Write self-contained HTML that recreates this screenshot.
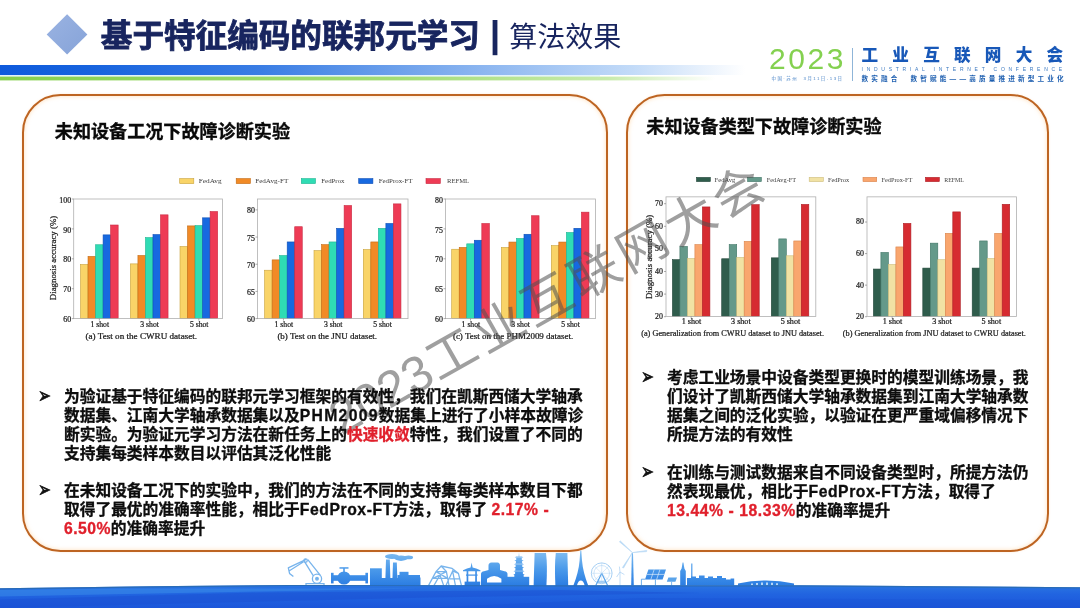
<!DOCTYPE html>
<html lang="zh-CN">
<head>
<meta charset="utf-8">
<title>基于特征编码的联邦元学习 | 算法效果</title>
<style>
html,body{margin:0;padding:0;}
body{width:1080px;height:608px;position:relative;overflow:hidden;background:#fff;font-family:"Liberation Sans","Noto Sans CJK SC",sans-serif;}
.abs{position:absolute;}
.title{left:100.8px;top:13px;font-size:31.6px;font-weight:700;color:#18255f;-webkit-text-stroke:.85px #18255f;white-space:nowrap;line-height:46px;}
.sep{left:489.8px;top:10.5px;font-size:37.6px;font-weight:700;color:#18255f;line-height:46px;}
.sub{left:509.2px;top:15px;font-weight:400;font-size:28px;color:#18255f;line-height:46px;white-space:nowrap;}
.panel{border:2.6px solid #bd6422;border-radius:38.5px;box-sizing:border-box;background:#fff;box-shadow:inset 0 0 4px rgba(255,196,130,.55),0 0 2px rgba(255,210,160,.5);}
.h2{font-size:18.1px;font-weight:700;color:#0a0a0a;-webkit-text-stroke:.35px #0a0a0a;white-space:nowrap;line-height:24px;}
.txt{font-size:15.73px;font-weight:700;color:#0d0d0d;-webkit-text-stroke:.3px;line-height:19px;white-space:nowrap;}
.txt .r{color:#e0202c;}
.bul{font-size:15px;font-weight:400;color:#111;line-height:19px;transform:scaleY(1.45);transform-origin:50% 50%;-webkit-text-stroke:.5px #111;margin:-1px 0 0 -0.8px;}
svg text{font-family:"Liberation Serif","Noto Serif CJK SC",serif;fill:#1a1a1a;stroke:#1a1a1a;stroke-width:.22px;}
svg text.wmt{font-family:"Liberation Sans","Noto Sans CJK SC",sans-serif;font-weight:400;fill:rgba(80,80,80,.55);stroke:none;}
</style>
</head>
<body>
<svg class="abs" style="left:0;top:0" width="1080" height="100" viewBox="0 0 1080 100">
<defs>
<linearGradient id="gb" x1="0" x2="1" y1="0" y2="0"><stop offset="0" stop-color="#0e5adc"/><stop offset="0.12" stop-color="#1763de"/><stop offset="0.35" stop-color="#3a7de4"/><stop offset="0.6" stop-color="#7fadee"/><stop offset="0.85" stop-color="#c3dbf8"/><stop offset="1" stop-color="#ffffff"/></linearGradient>
<linearGradient id="gg" x1="0" x2="1" y1="0" y2="0"><stop offset="0" stop-color="#86d04e"/><stop offset="0.55" stop-color="#a2dc74"/><stop offset="0.85" stop-color="#c8ebac"/><stop offset="1" stop-color="#ffffff"/></linearGradient>
<linearGradient id="gd" x1="0" x2="1" y1="0" y2="1"><stop offset="0" stop-color="#9ab3e2"/><stop offset="1" stop-color="#86a3d8"/></linearGradient>
</defs>
<rect x="0" y="65" width="745" height="10" fill="url(#gb)"/>
<rect x="0" y="75" width="600" height="1.7" fill="#e2f3fb"/>
<rect x="0" y="76.6" width="715" height="3.8" fill="url(#gg)"/>
<polygon points="67.1,14.3 87.4,34.6 67.1,54.6 46.7,34.6" fill="url(#gd)"/>
</svg>
<div class="abs title">基于特征编码的联邦元学习</div>
<div class="abs sep">|</div>
<div class="abs sub">算法效果</div>
<div class="abs" style="left:769px;top:42.5px;font-size:30px;line-height:32px;color:#84d150;font-weight:400;letter-spacing:2.6px;white-space:nowrap;">2023</div>
<div class="abs" style="left:852px;top:48px;width:1px;height:33px;background:#8fb5d8;"></div>
<div class="abs" style="left:861.5px;top:45px;font-size:16.6px;line-height:22px;font-weight:900;color:#1858b8;letter-spacing:14.25px;white-space:nowrap;">工业互联网大会</div>
<div class="abs" style="left:861.5px;top:65.7px;font-size:5px;line-height:7px;color:#3a78c0;letter-spacing:3.74px;white-space:nowrap;">INDUSTRIAL INTERNET CONFERENCE</div>
<div class="abs" style="left:861.5px;top:73.5px;font-size:6.6px;line-height:9px;font-weight:700;color:#1e5fb0;letter-spacing:3.17px;white-space:nowrap;">数实融合&nbsp;&nbsp;数智赋能——高质量推进新型工业化</div>
<div class="abs" style="left:771.5px;top:75.7px;font-size:4.4px;line-height:6px;color:#4c86c8;letter-spacing:1.5px;white-space:nowrap;">中国·苏州&nbsp;&nbsp;3月11日-13日</div>
<div class="abs panel" style="left:22.4px;top:94.4px;width:585.4px;height:457.6px;"></div>
<div class="abs panel" style="left:626.4px;top:94.4px;width:422.6px;height:457.6px;"></div>
<div class="abs h2" style="left:54.8px;top:119.7px;">未知设备工况下故障诊断实验</div>
<div class="abs h2" style="left:646.3px;top:114.5px;">未知设备类型下故障诊断实验</div>
<svg class="abs" style="left:0;top:0" width="1080" height="608" viewBox="0 0 1080 608">
<rect x="179.7" y="178.6" width="14.1" height="5" fill="#f9d468" stroke="#c9a23c" stroke-width="0.6"/>
<text x="198.7" y="183.4" textLength="23.0" lengthAdjust="spacingAndGlyphs" font-size="7" style="fill:#3a3a3a;stroke:none">FedAvg</text>
<rect x="236.2" y="178.6" width="14.2" height="5" fill="#f18a26" stroke="#c26a14" stroke-width="0.6"/>
<text x="255.2" y="183.4" textLength="33.1" lengthAdjust="spacingAndGlyphs" font-size="7" style="fill:#3a3a3a;stroke:none">FedAvg-FT</text>
<rect x="301.3" y="178.6" width="14.2" height="5" fill="#2fdcb4" stroke="#1fb592" stroke-width="0.6"/>
<text x="321.3" y="183.4" textLength="23.2" lengthAdjust="spacingAndGlyphs" font-size="7" style="fill:#3a3a3a;stroke:none">FedProx</text>
<rect x="358.7" y="178.6" width="14.2" height="5" fill="#1769e0" stroke="#0f4fb5" stroke-width="0.6"/>
<text x="378.7" y="183.4" textLength="33.8" lengthAdjust="spacingAndGlyphs" font-size="7" style="fill:#3a3a3a;stroke:none">FedProx-FT</text>
<rect x="426" y="178.6" width="14.3" height="5" fill="#ee3b55" stroke="#c82840" stroke-width="0.6"/>
<text x="447" y="183.4" textLength="22.1" lengthAdjust="spacingAndGlyphs" font-size="7" style="fill:#3a3a3a;stroke:none">REFML</text>
<rect x="80.50" y="264.48" width="7.53" height="54.12" fill="#f9d468" stroke="#c9a23c" stroke-width="0.6"/>
<rect x="88.03" y="256.41" width="7.53" height="62.19" fill="#f18a26" stroke="#c26a14" stroke-width="0.6"/>
<rect x="95.56" y="244.75" width="7.53" height="73.85" fill="#2fdcb4" stroke="#1fb592" stroke-width="0.6"/>
<rect x="103.09" y="234.88" width="7.53" height="83.72" fill="#1769e0" stroke="#0f4fb5" stroke-width="0.6"/>
<rect x="110.62" y="225.01" width="7.53" height="93.59" fill="#ee3b55" stroke="#c82840" stroke-width="0.6"/>
<rect x="130.40" y="263.88" width="7.53" height="54.72" fill="#f9d468" stroke="#c9a23c" stroke-width="0.6"/>
<rect x="137.93" y="255.51" width="7.53" height="63.09" fill="#f18a26" stroke="#c26a14" stroke-width="0.6"/>
<rect x="145.46" y="237.57" width="7.53" height="81.03" fill="#2fdcb4" stroke="#1fb592" stroke-width="0.6"/>
<rect x="152.99" y="234.58" width="7.53" height="84.02" fill="#1769e0" stroke="#0f4fb5" stroke-width="0.6"/>
<rect x="160.52" y="214.85" width="7.53" height="103.75" fill="#ee3b55" stroke="#c82840" stroke-width="0.6"/>
<rect x="180.00" y="246.54" width="7.53" height="72.06" fill="#f9d468" stroke="#c9a23c" stroke-width="0.6"/>
<rect x="187.53" y="225.91" width="7.53" height="92.69" fill="#f18a26" stroke="#c26a14" stroke-width="0.6"/>
<rect x="195.06" y="225.61" width="7.53" height="92.99" fill="#2fdcb4" stroke="#1fb592" stroke-width="0.6"/>
<rect x="202.59" y="217.84" width="7.53" height="100.76" fill="#1769e0" stroke="#0f4fb5" stroke-width="0.6"/>
<rect x="210.12" y="211.56" width="7.53" height="107.04" fill="#ee3b55" stroke="#c82840" stroke-width="0.6"/>
<rect x="73.7" y="199" width="148.90" height="119.60" fill="none" stroke="#b0b0b0" stroke-width="0.8"/>
<line x1="71.7" x2="73.7" y1="318.60" y2="318.60" stroke="#777" stroke-width="0.6"/>
<text x="71.10000000000001" y="322.20" text-anchor="end" font-size="7.9">60</text>
<line x1="71.7" x2="73.7" y1="288.70" y2="288.70" stroke="#777" stroke-width="0.6"/>
<text x="71.10000000000001" y="292.30" text-anchor="end" font-size="7.9">70</text>
<line x1="71.7" x2="73.7" y1="258.80" y2="258.80" stroke="#777" stroke-width="0.6"/>
<text x="71.10000000000001" y="262.40" text-anchor="end" font-size="7.9">80</text>
<line x1="71.7" x2="73.7" y1="228.90" y2="228.90" stroke="#777" stroke-width="0.6"/>
<text x="71.10000000000001" y="232.50" text-anchor="end" font-size="7.9">90</text>
<line x1="71.7" x2="73.7" y1="199.00" y2="199.00" stroke="#777" stroke-width="0.6"/>
<text x="71.10000000000001" y="202.60" text-anchor="end" font-size="7.9">100</text>
<line x1="99.33" x2="99.33" y1="318.6" y2="320.6" stroke="#777" stroke-width="0.6"/>
<text x="90.43" y="327.20" textLength="18.6" lengthAdjust="spacingAndGlyphs" font-size="7.9">1 shot</text>
<line x1="149.22" x2="149.22" y1="318.6" y2="320.6" stroke="#777" stroke-width="0.6"/>
<text x="140.32" y="327.20" textLength="18.6" lengthAdjust="spacingAndGlyphs" font-size="7.9">3 shot</text>
<line x1="198.82" x2="198.82" y1="318.6" y2="320.6" stroke="#777" stroke-width="0.6"/>
<text x="189.92" y="327.20" textLength="18.6" lengthAdjust="spacingAndGlyphs" font-size="7.9">5 shot</text>
<text transform="translate(56.3,300.2) rotate(-90)" textLength="84.4" lengthAdjust="spacingAndGlyphs" font-size="7.9">Diagnosis accuracy (%)</text>
<text x="85.5" y="338.5" textLength="111.6" lengthAdjust="spacingAndGlyphs" font-size="7.7" fill="#2a2a2a">(a) Test on the CWRU dataset.</text>
<rect x="264.60" y="270.22" width="7.53" height="48.38" fill="#f9d468" stroke="#c9a23c" stroke-width="0.6"/>
<rect x="272.13" y="259.89" width="7.53" height="58.71" fill="#f18a26" stroke="#c26a14" stroke-width="0.6"/>
<rect x="279.66" y="255.54" width="7.53" height="63.06" fill="#2fdcb4" stroke="#1fb592" stroke-width="0.6"/>
<rect x="287.19" y="241.95" width="7.53" height="76.65" fill="#1769e0" stroke="#0f4fb5" stroke-width="0.6"/>
<rect x="294.72" y="226.73" width="7.53" height="91.87" fill="#ee3b55" stroke="#c82840" stroke-width="0.6"/>
<rect x="314.00" y="250.65" width="7.53" height="67.95" fill="#f9d468" stroke="#c9a23c" stroke-width="0.6"/>
<rect x="321.53" y="244.67" width="7.53" height="73.93" fill="#f18a26" stroke="#c26a14" stroke-width="0.6"/>
<rect x="329.06" y="241.95" width="7.53" height="76.65" fill="#2fdcb4" stroke="#1fb592" stroke-width="0.6"/>
<rect x="336.59" y="228.36" width="7.53" height="90.24" fill="#1769e0" stroke="#0f4fb5" stroke-width="0.6"/>
<rect x="344.12" y="205.52" width="7.53" height="113.08" fill="#ee3b55" stroke="#c82840" stroke-width="0.6"/>
<rect x="363.30" y="249.56" width="7.53" height="69.04" fill="#f9d468" stroke="#c9a23c" stroke-width="0.6"/>
<rect x="370.83" y="241.95" width="7.53" height="76.65" fill="#f18a26" stroke="#c26a14" stroke-width="0.6"/>
<rect x="378.36" y="228.36" width="7.53" height="90.24" fill="#2fdcb4" stroke="#1fb592" stroke-width="0.6"/>
<rect x="385.89" y="223.46" width="7.53" height="95.14" fill="#1769e0" stroke="#0f4fb5" stroke-width="0.6"/>
<rect x="393.42" y="203.89" width="7.53" height="114.71" fill="#ee3b55" stroke="#c82840" stroke-width="0.6"/>
<rect x="257.5" y="199" width="150.50" height="119.60" fill="none" stroke="#b0b0b0" stroke-width="0.8"/>
<line x1="255.5" x2="257.5" y1="318.60" y2="318.60" stroke="#777" stroke-width="0.6"/>
<text x="254.9" y="322.20" text-anchor="end" font-size="7.9">60</text>
<line x1="255.5" x2="257.5" y1="291.42" y2="291.42" stroke="#777" stroke-width="0.6"/>
<text x="254.9" y="295.02" text-anchor="end" font-size="7.9">65</text>
<line x1="255.5" x2="257.5" y1="264.24" y2="264.24" stroke="#777" stroke-width="0.6"/>
<text x="254.9" y="267.84" text-anchor="end" font-size="7.9">70</text>
<line x1="255.5" x2="257.5" y1="237.05" y2="237.05" stroke="#777" stroke-width="0.6"/>
<text x="254.9" y="240.65" text-anchor="end" font-size="7.9">75</text>
<line x1="255.5" x2="257.5" y1="209.87" y2="209.87" stroke="#777" stroke-width="0.6"/>
<text x="254.9" y="213.47" text-anchor="end" font-size="7.9">80</text>
<line x1="283.43" x2="283.43" y1="318.6" y2="320.6" stroke="#777" stroke-width="0.6"/>
<text x="274.52" y="327.20" textLength="18.6" lengthAdjust="spacingAndGlyphs" font-size="7.9">1 shot</text>
<line x1="332.82" x2="332.82" y1="318.6" y2="320.6" stroke="#777" stroke-width="0.6"/>
<text x="323.92" y="327.20" textLength="18.6" lengthAdjust="spacingAndGlyphs" font-size="7.9">3 shot</text>
<line x1="382.12" x2="382.12" y1="318.6" y2="320.6" stroke="#777" stroke-width="0.6"/>
<text x="373.22" y="327.20" textLength="18.6" lengthAdjust="spacingAndGlyphs" font-size="7.9">5 shot</text>
<text x="277.4" y="338.5" textLength="99.7" lengthAdjust="spacingAndGlyphs" font-size="7.7" fill="#2a2a2a">(b) Test on the JNU dataset.</text>
<rect x="451.70" y="249.23" width="7.53" height="69.37" fill="#f9d468" stroke="#c9a23c" stroke-width="0.6"/>
<rect x="459.23" y="247.44" width="7.53" height="71.16" fill="#f18a26" stroke="#c26a14" stroke-width="0.6"/>
<rect x="466.76" y="243.85" width="7.53" height="74.75" fill="#2fdcb4" stroke="#1fb592" stroke-width="0.6"/>
<rect x="474.29" y="240.26" width="7.53" height="78.34" fill="#1769e0" stroke="#0f4fb5" stroke-width="0.6"/>
<rect x="481.82" y="223.52" width="7.53" height="95.08" fill="#ee3b55" stroke="#c82840" stroke-width="0.6"/>
<rect x="501.40" y="247.44" width="7.53" height="71.16" fill="#f9d468" stroke="#c9a23c" stroke-width="0.6"/>
<rect x="508.93" y="242.06" width="7.53" height="76.54" fill="#f18a26" stroke="#c26a14" stroke-width="0.6"/>
<rect x="516.46" y="238.47" width="7.53" height="80.13" fill="#2fdcb4" stroke="#1fb592" stroke-width="0.6"/>
<rect x="523.99" y="234.28" width="7.53" height="84.32" fill="#1769e0" stroke="#0f4fb5" stroke-width="0.6"/>
<rect x="531.52" y="215.74" width="7.53" height="102.86" fill="#ee3b55" stroke="#c82840" stroke-width="0.6"/>
<rect x="551.30" y="245.64" width="7.53" height="72.96" fill="#f9d468" stroke="#c9a23c" stroke-width="0.6"/>
<rect x="558.83" y="242.06" width="7.53" height="76.54" fill="#f18a26" stroke="#c26a14" stroke-width="0.6"/>
<rect x="566.36" y="232.49" width="7.53" height="86.11" fill="#2fdcb4" stroke="#1fb592" stroke-width="0.6"/>
<rect x="573.89" y="228.30" width="7.53" height="90.30" fill="#1769e0" stroke="#0f4fb5" stroke-width="0.6"/>
<rect x="581.42" y="212.16" width="7.53" height="106.44" fill="#ee3b55" stroke="#c82840" stroke-width="0.6"/>
<rect x="445.5" y="199" width="150.00" height="119.60" fill="none" stroke="#b0b0b0" stroke-width="0.8"/>
<line x1="443.5" x2="445.5" y1="318.60" y2="318.60" stroke="#777" stroke-width="0.6"/>
<text x="442.9" y="322.20" text-anchor="end" font-size="7.9">60</text>
<line x1="443.5" x2="445.5" y1="288.70" y2="288.70" stroke="#777" stroke-width="0.6"/>
<text x="442.9" y="292.30" text-anchor="end" font-size="7.9">65</text>
<line x1="443.5" x2="445.5" y1="258.80" y2="258.80" stroke="#777" stroke-width="0.6"/>
<text x="442.9" y="262.40" text-anchor="end" font-size="7.9">70</text>
<line x1="443.5" x2="445.5" y1="228.90" y2="228.90" stroke="#777" stroke-width="0.6"/>
<text x="442.9" y="232.50" text-anchor="end" font-size="7.9">75</text>
<line x1="443.5" x2="445.5" y1="199.00" y2="199.00" stroke="#777" stroke-width="0.6"/>
<text x="442.9" y="202.60" text-anchor="end" font-size="7.9">80</text>
<line x1="470.52" x2="470.52" y1="318.6" y2="320.6" stroke="#777" stroke-width="0.6"/>
<text x="461.62" y="327.20" textLength="18.6" lengthAdjust="spacingAndGlyphs" font-size="7.9">1 shot</text>
<line x1="520.23" x2="520.23" y1="318.6" y2="320.6" stroke="#777" stroke-width="0.6"/>
<text x="511.32" y="327.20" textLength="18.6" lengthAdjust="spacingAndGlyphs" font-size="7.9">3 shot</text>
<line x1="570.12" x2="570.12" y1="318.6" y2="320.6" stroke="#777" stroke-width="0.6"/>
<text x="561.23" y="327.20" textLength="18.6" lengthAdjust="spacingAndGlyphs" font-size="7.9">5 shot</text>
<text x="452.9" y="338.5" textLength="120.4" lengthAdjust="spacingAndGlyphs" font-size="7.7" fill="#2a2a2a">(c) Test on the PHM2009 dataset.</text>
<rect x="696.5" y="177.4" width="13.8" height="4.2" fill="#2f5d4c" stroke="#23463a" stroke-width="0.6"/>
<text x="714.6" y="181.8" textLength="20.6" lengthAdjust="spacingAndGlyphs" font-size="6.4" style="fill:#3a3a3a;stroke:none">FedAvg</text>
<rect x="747.6" y="177.4" width="13.7" height="4.2" fill="#64998a" stroke="#3f7565" stroke-width="0.6"/>
<text x="766.8" y="181.8" textLength="29.3" lengthAdjust="spacingAndGlyphs" font-size="6.4" style="fill:#3a3a3a;stroke:none">FedAvg-FT</text>
<rect x="809.2" y="177.4" width="14.1" height="4.2" fill="#f1e2a4" stroke="#cdbd7c" stroke-width="0.6"/>
<text x="827.9" y="181.8" textLength="21.3" lengthAdjust="spacingAndGlyphs" font-size="6.4" style="fill:#3a3a3a;stroke:none">FedProx</text>
<rect x="863" y="177.4" width="13.7" height="4.2" fill="#f9a66e" stroke="#d9824a" stroke-width="0.6"/>
<text x="881.6" y="181.8" textLength="30.7" lengthAdjust="spacingAndGlyphs" font-size="6.4" style="fill:#3a3a3a;stroke:none">FedProx-FT</text>
<rect x="925.5" y="177.4" width="13.8" height="4.2" fill="#d62b31" stroke="#ac1d24" stroke-width="0.6"/>
<text x="944.2" y="181.8" textLength="19.8" lengthAdjust="spacingAndGlyphs" font-size="6.4" style="fill:#3a3a3a;stroke:none">REFML</text>
<rect x="672.40" y="259.67" width="7.50" height="56.83" fill="#2f5d4c" stroke="#23463a" stroke-width="0.6"/>
<rect x="679.90" y="246.43" width="7.50" height="70.07" fill="#64998a" stroke="#3f7565" stroke-width="0.6"/>
<rect x="687.40" y="258.53" width="7.50" height="57.97" fill="#f1e2a4" stroke="#cdbd7c" stroke-width="0.6"/>
<rect x="694.90" y="244.61" width="7.50" height="71.89" fill="#f9a66e" stroke="#d9824a" stroke-width="0.6"/>
<rect x="702.40" y="206.94" width="7.50" height="109.56" fill="#d62b31" stroke="#ac1d24" stroke-width="0.6"/>
<rect x="721.70" y="258.76" width="7.50" height="57.74" fill="#2f5d4c" stroke="#23463a" stroke-width="0.6"/>
<rect x="729.20" y="244.61" width="7.50" height="71.89" fill="#64998a" stroke="#3f7565" stroke-width="0.6"/>
<rect x="736.70" y="257.39" width="7.50" height="59.11" fill="#f1e2a4" stroke="#cdbd7c" stroke-width="0.6"/>
<rect x="744.20" y="241.41" width="7.50" height="75.09" fill="#f9a66e" stroke="#d9824a" stroke-width="0.6"/>
<rect x="751.70" y="204.66" width="7.50" height="111.84" fill="#d62b31" stroke="#ac1d24" stroke-width="0.6"/>
<rect x="771.30" y="257.85" width="7.50" height="58.65" fill="#2f5d4c" stroke="#23463a" stroke-width="0.6"/>
<rect x="778.80" y="238.90" width="7.50" height="77.60" fill="#64998a" stroke="#3f7565" stroke-width="0.6"/>
<rect x="786.30" y="255.79" width="7.50" height="60.71" fill="#f1e2a4" stroke="#cdbd7c" stroke-width="0.6"/>
<rect x="793.80" y="240.96" width="7.50" height="75.54" fill="#f9a66e" stroke="#d9824a" stroke-width="0.6"/>
<rect x="801.30" y="204.43" width="7.50" height="112.07" fill="#d62b31" stroke="#ac1d24" stroke-width="0.6"/>
<rect x="666" y="196.85" width="149.80" height="119.65" fill="none" stroke="#b0b0b0" stroke-width="0.8"/>
<line x1="664" x2="666" y1="316.70" y2="316.70" stroke="#777" stroke-width="0.6"/>
<text x="662.9" y="319.10" text-anchor="end" font-size="7.9">20</text>
<line x1="664" x2="666" y1="294.10" y2="294.10" stroke="#777" stroke-width="0.6"/>
<text x="662.9" y="296.50" text-anchor="end" font-size="7.9">30</text>
<line x1="664" x2="666" y1="271.50" y2="271.50" stroke="#777" stroke-width="0.6"/>
<text x="662.9" y="273.90" text-anchor="end" font-size="7.9">40</text>
<line x1="664" x2="666" y1="248.90" y2="248.90" stroke="#777" stroke-width="0.6"/>
<text x="662.9" y="251.30" text-anchor="end" font-size="7.9">50</text>
<line x1="664" x2="666" y1="226.30" y2="226.30" stroke="#777" stroke-width="0.6"/>
<text x="662.9" y="228.70" text-anchor="end" font-size="7.9">60</text>
<line x1="664" x2="666" y1="203.70" y2="203.70" stroke="#777" stroke-width="0.6"/>
<text x="662.9" y="206.10" text-anchor="end" font-size="7.9">70</text>
<line x1="691.15" x2="691.15" y1="316.5" y2="318.5" stroke="#777" stroke-width="0.6"/>
<text x="681.75" y="324.10" textLength="19.6" lengthAdjust="spacingAndGlyphs" font-size="7.9">1 shot</text>
<line x1="740.45" x2="740.45" y1="316.5" y2="318.5" stroke="#777" stroke-width="0.6"/>
<text x="731.05" y="324.10" textLength="19.6" lengthAdjust="spacingAndGlyphs" font-size="7.9">3 shot</text>
<line x1="790.05" x2="790.05" y1="316.5" y2="318.5" stroke="#777" stroke-width="0.6"/>
<text x="780.65" y="324.10" textLength="19.6" lengthAdjust="spacingAndGlyphs" font-size="7.9">5 shot</text>
<text transform="translate(652.2,299.1) rotate(-90)" textLength="84.4" lengthAdjust="spacingAndGlyphs" font-size="7.9">Diagnosis accuracy (%)</text>
<text x="641.2" y="335.8" textLength="182.8" lengthAdjust="spacingAndGlyphs" font-size="7.7" fill="#2a2a2a">(a) Generalization from CWRU dataset to JNU dataset.</text>
<rect x="873.40" y="269.04" width="7.50" height="47.46" fill="#2f5d4c" stroke="#23463a" stroke-width="0.6"/>
<rect x="880.90" y="252.46" width="7.50" height="64.04" fill="#64998a" stroke="#3f7565" stroke-width="0.6"/>
<rect x="888.40" y="264.46" width="7.50" height="52.04" fill="#f1e2a4" stroke="#cdbd7c" stroke-width="0.6"/>
<rect x="895.90" y="246.94" width="7.50" height="69.56" fill="#f9a66e" stroke="#d9824a" stroke-width="0.6"/>
<rect x="903.40" y="223.42" width="7.50" height="93.08" fill="#d62b31" stroke="#ac1d24" stroke-width="0.6"/>
<rect x="922.80" y="268.09" width="7.50" height="48.41" fill="#2f5d4c" stroke="#23463a" stroke-width="0.6"/>
<rect x="930.30" y="243.15" width="7.50" height="73.35" fill="#64998a" stroke="#3f7565" stroke-width="0.6"/>
<rect x="937.80" y="259.72" width="7.50" height="56.78" fill="#f1e2a4" stroke="#cdbd7c" stroke-width="0.6"/>
<rect x="945.30" y="233.36" width="7.50" height="83.14" fill="#f9a66e" stroke="#d9824a" stroke-width="0.6"/>
<rect x="952.80" y="211.90" width="7.50" height="104.60" fill="#d62b31" stroke="#ac1d24" stroke-width="0.6"/>
<rect x="972.20" y="268.09" width="7.50" height="48.41" fill="#2f5d4c" stroke="#23463a" stroke-width="0.6"/>
<rect x="979.70" y="240.94" width="7.50" height="75.56" fill="#64998a" stroke="#3f7565" stroke-width="0.6"/>
<rect x="987.20" y="258.46" width="7.50" height="58.04" fill="#f1e2a4" stroke="#cdbd7c" stroke-width="0.6"/>
<rect x="994.70" y="233.36" width="7.50" height="83.14" fill="#f9a66e" stroke="#d9824a" stroke-width="0.6"/>
<rect x="1002.20" y="204.32" width="7.50" height="112.18" fill="#d62b31" stroke="#ac1d24" stroke-width="0.6"/>
<rect x="867" y="196.85" width="149.40" height="119.65" fill="none" stroke="#b0b0b0" stroke-width="0.8"/>
<line x1="865" x2="867" y1="316.70" y2="316.70" stroke="#777" stroke-width="0.6"/>
<text x="863.9" y="319.10" text-anchor="end" font-size="7.9">20</text>
<line x1="865" x2="867" y1="285.14" y2="285.14" stroke="#777" stroke-width="0.6"/>
<text x="863.9" y="287.54" text-anchor="end" font-size="7.9">40</text>
<line x1="865" x2="867" y1="253.58" y2="253.58" stroke="#777" stroke-width="0.6"/>
<text x="863.9" y="255.98" text-anchor="end" font-size="7.9">60</text>
<line x1="865" x2="867" y1="222.02" y2="222.02" stroke="#777" stroke-width="0.6"/>
<text x="863.9" y="224.42" text-anchor="end" font-size="7.9">80</text>
<line x1="892.15" x2="892.15" y1="316.5" y2="318.5" stroke="#777" stroke-width="0.6"/>
<text x="882.75" y="324.10" textLength="19.6" lengthAdjust="spacingAndGlyphs" font-size="7.9">1 shot</text>
<line x1="941.55" x2="941.55" y1="316.5" y2="318.5" stroke="#777" stroke-width="0.6"/>
<text x="932.15" y="324.10" textLength="19.6" lengthAdjust="spacingAndGlyphs" font-size="7.9">3 shot</text>
<line x1="990.95" x2="990.95" y1="316.5" y2="318.5" stroke="#777" stroke-width="0.6"/>
<text x="981.55" y="324.10" textLength="19.6" lengthAdjust="spacingAndGlyphs" font-size="7.9">5 shot</text>
<text x="842.8" y="335.8" textLength="183.1" lengthAdjust="spacingAndGlyphs" font-size="7.7" fill="#2a2a2a">(b) Generalization from JNU dataset to CWRU dataset.</text>
</svg>
<svg class="abs" style="left:0;top:0" width="1080" height="608" viewBox="0 0 1080 608"><g transform="translate(451.4,353.4) rotate(-29.5)"><text class="wmt" x="-122.7 -95.2 -67.7 -40.1 0.0 54.8 109.6 164.4 219.2 274.0 328.8" y="18.0" text-anchor="middle" font-size="50">2023工业互联网大会</text></g></svg>
<div class="abs bul" style="left:39px;top:387.2px;">➢</div>
<div class="abs txt" style="left:64px;top:387.2px;">为验证基于特征编码的联邦元学习框架的有效性，我们在凯斯西储大学轴承<br>数据集、江南大学轴承数据集以及<span style="letter-spacing:1.3px">PHM2009</span>数据集上进行了小样本故障诊<br>断实验。为验证元学习方法在新任务上的<span class="r">快速收敛</span>特性，我们设置了不同的<br>支持集每类样本数目以评估其泛化性能</div>
<div class="abs bul" style="left:39px;top:481.4px;">➢</div>
<div class="abs txt" style="left:64px;top:481.4px;">在未知设备工况下的实验中，我们的方法在不同的支持集每类样本数目下都<br>取得了最优的准确率性能，相比于<span style="letter-spacing:.57px">FedProx-FT</span>方法，取得了 <span class="r" style="letter-spacing:.5px">2.17% -</span><br><span class="r" style="letter-spacing:.45px">6.50%</span>的准确率提升</div>
<div class="abs bul" style="left:642px;top:368.3px;">➢</div>
<div class="abs txt" style="left:667px;top:368.3px;">考虑工业场景中设备类型更换时的模型训练场景，我<br>们设计了凯斯西储大学轴承数据集到江南大学轴承数<br>据集之间的泛化实验，以验证在更严重域偏移情况下<br>所提方法的有效性</div>
<div class="abs bul" style="left:642px;top:462.6px;">➢</div>
<div class="abs txt" style="left:667px;top:462.6px;">在训练与测试数据来自不同设备类型时，所提方法仍<br>然表现最优，相比于<span style="letter-spacing:.57px">FedProx-FT</span>方法，取得了<br><span class="r" style="letter-spacing:.55px">13.44% - 18.33%</span>的准确率提升</div>
<svg class="abs" style="left:0;top:538px" width="1080" height="70" viewBox="0 538 1080 70">
<defs>
<linearGradient id="sea" x1="0" x2="0" y1="585" y2="608" gradientUnits="userSpaceOnUse"><stop offset="0" stop-color="#2b76e2"/><stop offset="0.4" stop-color="#2164e0"/><stop offset="1" stop-color="#1c56da"/></linearGradient>
<linearGradient id="sky" x1="0" x2="0" y1="552" y2="586" gradientUnits="userSpaceOnUse"><stop offset="0" stop-color="#7fbcf0"/><stop offset="0.5" stop-color="#4b9aea"/><stop offset="1" stop-color="#2a7ce2"/></linearGradient>
<linearGradient id="sky2" x1="0" x2="0" y1="552" y2="586" gradientUnits="userSpaceOnUse"><stop offset="0" stop-color="#cfe6fa"/><stop offset="1" stop-color="#7db9ee"/></linearGradient>
</defs>
<g fill="url(#sky)" stroke="none">
<!-- valve -->
<circle cx="344" cy="578" r="6.6"/><rect x="332" y="575.2" width="35" height="5.6"/><rect x="331" y="572.8" width="2.6" height="10.6"/><rect x="365.4" y="572.8" width="2.6" height="10.6"/><rect x="343.2" y="568" width="1.6" height="5"/><rect x="339.5" y="567.2" width="9" height="1.5"/>
<!-- factory -->
<rect x="370" y="568.3" width="11.8" height="18"/><polygon points="385.2,586 386,559.5 389.8,559.5 390.6,586"/><polygon points="392.2,586 393,562.5 396.8,562.5 397.6,586"/><rect x="381" y="578" width="18" height="8"/><rect x="397.5" y="575" width="22.5" height="11"/><rect x="399.5" y="571.8" width="9" height="4"/><rect x="416.5" y="577.5" width="4" height="8.5"/>
<ellipse cx="392" cy="556.5" rx="7" ry="2.6"/><ellipse cx="401" cy="558.2" rx="6.5" ry="2.7"/><ellipse cx="408.5" cy="557.4" rx="4.6" ry="1.9"/>
<!-- pavilion -->
<polygon points="463,570.2 467,568.6 470.6,567.4 471.6,562.4 472.6,567.4 476.2,568.6 480.4,570.2 480.4,571.2 463,571.2"/><rect x="466.6" y="571" width="1.7" height="11"/><rect x="475.2" y="571" width="1.7" height="11"/><rect x="466" y="574.5" width="11.6" height="1.2"/><rect x="464.6" y="581.6" width="15.6" height="4.4"/>
<!-- museum -->
<path d="M481,586 V574 Q481,571.6 484,571.2 L488.5,570 V565.5 Q488.5,562.6 491.5,562.4 H497.5 Q500,562.6 500,565.5 V570 L504.5,571.2 Q507.5,571.6 507.5,574 V586 Z"/>
<!-- pagoda -->
<polygon points="518.6,556.8 519,552.6 519.4,556.8"/><polygon points="514.6,557.6 516.1,556.5 521.9,556.5 523.4,557.6"/><rect x="516.2" y="557.5" width="5.6" height="2.6"/><polygon points="514.3,561.1 515.8,560.0 522.2,560.0 523.7,561.1"/><rect x="515.9" y="561.0" width="6.2" height="2.6"/><polygon points="514.0,564.6 515.5,563.5 522.5,563.5 524.0,564.6"/><rect x="515.6" y="564.5" width="6.7" height="2.6"/><polygon points="513.8,568.1 515.3,567.0 522.7,567.0 524.2,568.1"/><rect x="515.4" y="568.0" width="7.3" height="2.6"/><polygon points="513.5,571.6 515.0,570.5 523.0,570.5 524.5,571.6"/><rect x="515.1" y="571.5" width="7.8" height="2.6"/><polygon points="513.2,575.1 514.7,574.0 523.3,574.0 524.8,575.1"/><rect x="514.8" y="575.0" width="8.4" height="2.6"/><rect x="514.4" y="575" width="9.2" height="2.4"/><rect x="507" y="576.8" width="22.2" height="9.4"/>
<!-- twin towers -->
<path d="M533.6,586 L534.6,553 H546 Q547.6,565 546.4,586 Z"/><path d="M555.4,586 Q554.4,565 555.8,553 H567.4 L568.2,586 Z"/>
<!-- eiffel -->
<path d="M580.3,550.5 h1 l0.7,10 q1,12 6.4,25.5 h-3.6 q-1.4,-5.4 -4,-5.4 q-2.6,0 -4,5.4 h-3.6 q5.4,-13.5 6.4,-25.5 Z"/>
<!-- small tower + low buildings -->
<polygon points="680.2,585.6 680.2,571 681.6,568.6 682.6,562.6 683.4,562.6 684.4,568.6 685.8,571 685.8,585.6"/><rect x="691.2" y="563.5" width="1.2" height="16"/>
<path d="M687,585.6 V578 h4 v-1.6 h5 v1.6 h3 v-2.4 h5.6 v2.4 h3.4 v-1.4 h5 v1.4 h4 v-2 h5 v2 h4 v1.4 h4.6 v-1 h3.6 v7.2 Z"/>
<!-- bridge -->
<path d="M738,585.8 V583.4 Q766,577.6 794,583.4 V585.8 Z"/>
</g>
<!-- white cutouts -->
<path d="M487,582.6 V578.8 Q494.2,573 501.4,578.8 V582.6 Z" fill="#fff"/>
<g fill="none" stroke="#78b4ec" stroke-width="1.3">
<!-- robot arm -->
<circle cx="317" cy="578.7" r="4.6"/><circle cx="317" cy="578.7" r="1.3" fill="#6aaeea"/>
<path d="M313.2,575.6 L304.4,561.4 M320.2,575.2 L307.8,559.6 M303.6,561.8 L289.4,570.8 M306.2,559.4 L288.2,567.8 M288.2,567.4 L289.6,573.6 L293.4,576.6 M306,583.6 H324 V585.6 H306 Z"/>
<circle cx="305.6" cy="560.6" r="1.7"/>
<!-- cranes -->
<path d="M428.6,585.4 L436,571.6 L441.2,566 L446.4,571.6 L449,585.4 M432.4,578.4 H448 M436,571.6 H446.4 M436,571.6 L447.6,578.4 M446.4,571.6 L433,578.4 M434,585.4 L440,575 L443.6,585.4 M441.2,566 L452,568.4 L458.4,573.4 L461.4,585.4 M446,585.4 L452.6,571 L455.4,585.4 M450,578.8 H460 M452.6,571 L458.4,573.4"/>
</g>
<g fill="none" stroke="#9fcbf2" stroke-width="0.9">
<!-- ferris wheel -->
<circle cx="601.7" cy="573.3" r="10.4"/><circle cx="601.7" cy="573.3" r="7.8" stroke-width="0.5"/>
<path d="M601.7,573.3 L595.8,585.4 M601.7,573.3 L607.6,585.4 M597.4,582 H606" stroke="#5aa4ea" stroke-width="1.2"/>
<path d="M601.7,562.9 V583.7 M591.3,573.3 H612.1 M594.3,566 L609,580.6 M609,566 L594.3,580.6" stroke-width="0.4"/>
</g>
<!-- wind turbine -->
<polygon points="631.2,585.6 631.8,553 633,553 633.8,585.6" fill="url(#sky)"/>
<path d="M632.4,552.6 L622.4,567.6 L623.6,568 Z M632.4,552.6 L646.8,550.4 L646.6,551.6 Z M632.4,552.6 L619.4,541.8 L620.4,541 Z" fill="#b7d8f5" stroke="#b7d8f5" stroke-width="0.6"/>
<path d="M620,572 V585.4 M620,572 L616.6,577 M620,572 L624.4,574.6 M620,572 L619.4,566.6" stroke="#a9d0f4" stroke-width="0.7" fill="none"/>
<!-- solar -->
<polygon points="648.4,569.4 666,569.4 662.6,579.6 645,579.6" fill="url(#sky)"/>
<path d="M654.2,569.4 L650.8,579.6 M660,569.4 L656.6,579.6 M646.8,574.4 H664.4" stroke="#d8ebfb" stroke-width="0.7" fill="none"/>
<path d="M655.4,579.6 V585.4 M641.4,585.4 V579.2 H645" stroke="#5aa4ea" stroke-width="0.9" fill="none"/>
<polygon points="668.4,577.6 677,577.6 675.4,581.8 666.8,581.8" fill="#5aa4ea"/><path d="M671.6,581.8 V585.4" stroke="#5aa4ea" stroke-width="0.8"/>
<!-- bridge piers as light cutouts -->
<path d="M752,583.6 v1.6 M757,583 v2.2 M762,582.6 v2.6 M767,582.6 v2.6 M772,582.8 v2.4 M777,583.2 v2" stroke="#d8ebfb" stroke-width="1.6"/>
<!-- sea -->
<polygon points="0,588.2 150,586.2 290,584.9 560,585.2 800,585.2 1080,587.2 1080,608 0,608" fill="url(#sea)"/>
<polygon points="0,588.2 150,586.2 290,584.9 560,585.2 800,585.2 1080,587.2 1080,588.4 800,586.4 560,586.4 290,586.1 150,587.4 0,589.4" fill="#2a6aa8" opacity="0.75"/>
<polygon points="0,599.5 260,592.5 560,590 700,593 430,597.6 200,603 0,608" fill="#1a4ed0" opacity="0.45"/>
<polygon points="420,608 640,598 1080,600 1080,608" fill="#1850d2" opacity="0.3"/>
<polygon points="0,590 120,588.4 420,588.4 260,591.4 0,596.6" fill="#3b8cea" opacity="0.55"/>
</svg>
</body>
</html>
